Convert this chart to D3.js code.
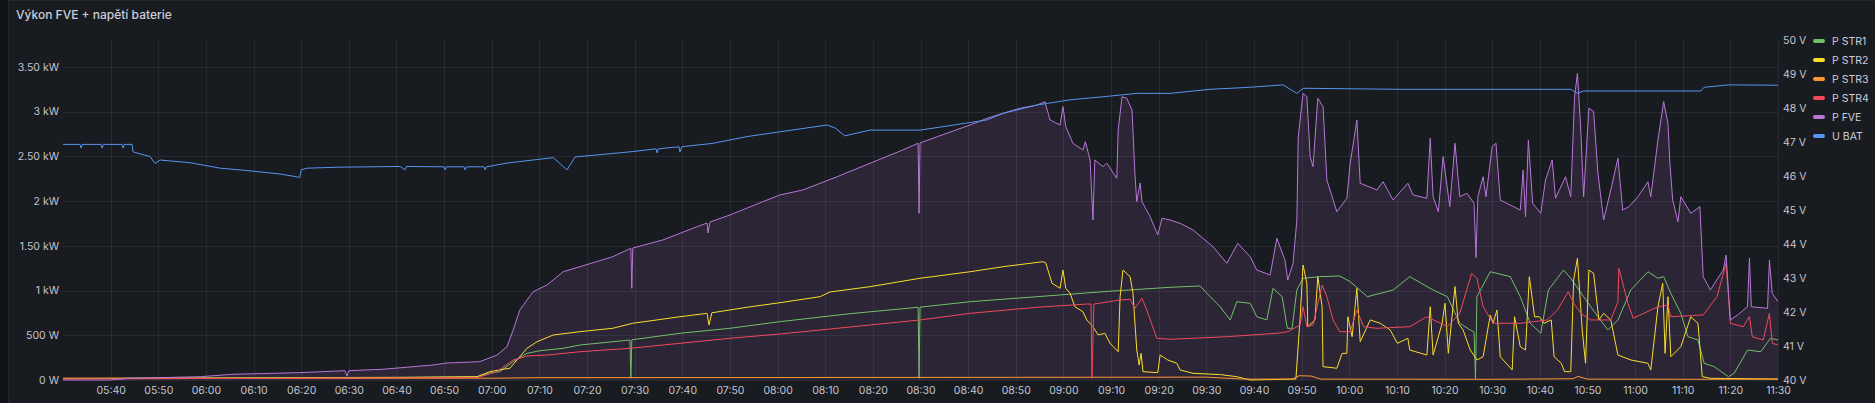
<!DOCTYPE html>
<html>
<head>
<meta charset="utf-8">
<script src="https://cdn.jsdelivr.net/npm/d3@7"></script>
<style>
  body { margin: 0; background: #111217; }
  svg { display: block; font-family: Inter, "Noto Sans", sans-serif; }
</style>
</head>
<body>
<svg id="chart" width="1875" height="403"></svg>
<script>
// time values are minutes after 05:30, power in W, voltage in V
var pStr1 = [[0,17],[86.9,34],[89.6,78],[91.7,93],[94.5,205],[97.4,298],[100.1,327],[105,354],[108.5,391],[119,447],[119.2,19],[119.4,449],
  [129.5,522],[140,578],[150.5,652],[165,740],[179.5,813],[179.7,19],[179.9,814],[190.4,875],[204.5,931],[218.3,987],[232.4,1036],
  [238.7,1051],[240.8,931],[242.9,819],[245,671],[246.4,875],[249.2,857],[250.6,707],[252.7,671],[254,1025],[255.9,931],[257,578],
  [258,578],[259,1006],[260.3,1137],[263.8,1155],[268,1162],[270.2,1099],[273.8,931],[279.2,1006],[282.7,1155],[287.6,1006],
  [290.6,931],[293.2,634],[295.4,559],[296.2,536],[296.5,11],[296.8,931],[299.6,1210],[303.8,1155],[305.9,931],[308,634],[310.2,522],
  [311.8,1006],[315,1229],[316.5,1137],[319.2,931],[322.2,707],[324.3,559],[326.4,671],[329.1,1006],[332.7,1210],[334.8,1137],
  [336,1155],[337.5,969],[339.6,745],[341.1,484],[343.2,447],[344.5,187],[346.6,149],[349.6,37],[350.8,75],[353.6,335],[356.4,316],
  [358.4,466],[360,447]];

var pStr2 = [[0,17],[60,22],[86.9,37],[89.6,93],[92.4,120],[93.8,131],[95.3,224],[97.4,354],[99.5,428],[102.9,503],[108.5,540],
  [115.4,578],[119.6,634],[129.5,707],[135.2,745],[135.6,615],[136.2,751],[143.6,813],[150.5,864],[158.9,931],[161,984],[169.4,1043],
  [179.9,1137],[190.4,1210],[197.3,1266],[205.7,1322],[206.3,1308],[207.6,1081],[209.3,1025],[209.9,1229],[210.5,1025],[211.4,969],
  [212.4,819],[214.1,763],[214.9,671],[216.2,596],[217.3,503],[218.7,522],[219.8,410],[221.5,316],[221.9,931],[222.5,1229],
  [224,1155],[224.6,969],[225.4,335],[225.9,168],[226.3,298],[226.7,93],[229.8,82],[230.3,279],[231.9,224],[233.8,187],[234.5,112],
  [237.2,75],[243,60],[246.4,37],[249.2,0],[258.8,11],[259.7,707],[260.3,1285],[261.1,1081],[261.3,596],[262.8,671],[263.4,1155],
  [264.3,819],[264.5,149],[267.4,131],[268.5,298],[269.5,298],[269.7,707],[270.6,484],[271.6,1025],[272.3,428],[274.4,671],
  [276.5,634],[278.6,559],[280.1,410],[282.3,466],[282.7,335],[286.3,279],[287,819],[287.6,279],[289.5,634],[290.1,857],[290.8,298],
  [292.2,1043],[292.9,634],[293.9,559],[295.4,335],[296.8,224],[298.1,260],[299.6,727],[300.2,634],[301,782],[301.7,260],[304.2,112],
  [304.7,707],[305.9,372],[307,335],[307.8,1155],[308.9,707],[309.9,707],[310.9,634],[312.4,671],[313,260],[314.5,187],[315.2,93],
  [316.5,93],[317.1,1118],[317.9,1360],[318.9,559],[319.6,187],[320.3,1229],[321.3,1193],[322.4,671],[323.4,745],[324.9,671],
  [326.4,279],[329.1,224],[332.7,187],[333.3,112],[334.8,819],[335.8,1081],[336.3,298],[336.9,931],[337.5,260],[339.6,372],
  [341.7,707],[343.2,634],[344.1,37],[345.8,19],[360,11]];

var pStr3 = [[0,20],[90,20],[100,26],[200,30],[240,32],[248,10],[258,10],[259.5,48],[262,44],[264,10],[300,8],[317,14],
  [318,40],[320,10],[345,8],[360,10]];

var pStr4 = [[0,11],[86.9,26],[91.1,93],[94.5,224],[95.9,243],[97.4,268],[101.6,279],[108.5,316],[119,354],[129.5,410],[140,466],
  [150.5,514],[162.5,578],[179.9,671],[190.4,745],[204.5,813],[214.9,849],[215.8,849],[216,19],[216.4,849],[221.9,894],[224,902],
  [225,801],[226.5,913],[227.5,782],[229.6,466],[232.4,455],[244.3,484],[254.8,522],[257.1,540],[259.7,615],[260.3,819],[261.1,596],
  [262.4,615],[264.3,1062],[265.3,931],[266.6,671],[268,540],[270.2,540],[271.6,782],[273,596],[275.8,578],[282.7,596],[286.3,707],
  [290.6,596],[293.2,745],[295.7,1193],[296.8,1137],[298.1,819],[300.2,634],[305.9,634],[311.6,671],[313.7,782],[316,987],[317.1,857],
  [318.6,745],[320.7,671],[324.9,671],[326.4,875],[326.6,1248],[328.5,857],[329.6,690],[334.8,819],[336.9,838],[337.5,707],
  [344.3,727],[347.2,931],[349.1,1304],[350,634],[352.7,596],[354,707],[354.6,484],[356.9,447],[358.2,745],[358.8,410],[360,391]];

var pFve = [[0,0],[9.9,0],[14.1,19],[28.8,37],[35.7,64],[49.7,82],[59.2,104],[59.6,45],[60,104],[67.2,120],[77.7,168],[80.6,190],
  [87.5,205],[91.1,279],[93.2,372],[94.5,559],[95.9,783],[97.4,894],[98.7,987],[101.6,1062],[105,1210],[108.5,1266],[115.4,1378],
  [119.2,1472],[119.4,1025],[119.6,1475],[125.9,1565],[133.1,1713],[135.2,1755],[135.4,1643],[135.8,1766],[140,1844],[146.9,1993],
  [150.5,2068],[155.3,2124],[162.5,2272],[169.4,2422],[176.3,2571],[179.5,2646],[179.7,1863],[179.9,2649],[183.5,2719],[190.4,2850],
  [194,2925],[197.3,2981],[200.9,3037],[204.5,3074],[206.1,3111],[207.2,2906],[209.3,2850],[209.9,3055],[210.5,2831],[212,2646],
  [214.1,2571],[214.6,2663],[215.6,2459],[216.2,1788],[216.6,2459],[218.3,2384],[219.1,2425],[221.2,2254],[221.5,2794],[222.3,3166],
  [223.3,3149],[224.4,3018],[225,2310],[225.4,1993],[226.1,2202],[226.5,1993],[228.2,1825],[229.8,1621],[230.7,1807],[232.4,1788],
  [234.5,1751],[237.2,1677],[241.4,1490],[244.3,1304],[246.6,1528],[249.2,1378],[250.6,1229],[253.4,1174],[254.8,1584],[256.5,1341],
  [257.1,1118],[258.2,1304],[259,1788],[259.3,2719],[260.3,3204],[261.1,3166],[261.8,2496],[262.4,2384],[263.4,3149],[264.5,3055],
  [265.3,2235],[267.4,1881],[269.5,2031],[270.2,2422],[271.6,2906],[272.3,2199],[275.8,2124],[277.1,2216],[279.2,2012],[282.3,2199],
  [283.4,2068],[286.3,2031],[287,2702],[287.6,2048],[288.7,1881],[289.7,2496],[291.1,1937],[292.2,2646],[293.2,2048],[294.7,2087],
  [296.2,1975],[296.6,1369],[297,2048],[298.1,2272],[298.7,2048],[300,2608],[300.8,2646],[301.7,2012],[305.9,1900],[306.5,2347],
  [307,1825],[307.6,2683],[308.5,1975],[310.2,1863],[311.2,2235],[312.6,2459],[313.3,2031],[315.4,2272],[316.5,2048],[317.3,3166],
  [317.9,3428],[318.6,2794],[319.2,2048],[320.3,3037],[321.3,2999],[322.2,2310],[323.4,1788],[324.9,2124],[326.4,2478],[327.4,1900],
  [328.7,1937],[330.6,2048],[332.7,2216],[333.3,2048],[334.8,2683],[336,3111],[336.9,2869],[337.3,2422],[337.9,2012],[339,1769],
  [339.6,2048],[341.7,1863],[343.6,1937],[344.3,1155],[345.8,1006],[348.5,1229],[349.1,1397],[350,671],[351.5,727],[353.6,819],
  [354,1360],[354.4,819],[357.8,801],[358.2,1341],[358.8,969],[360,875]];

var uBat = [[0,46.93],[3.6,46.93],[3.8,46.82],[4.1,46.93],[8,46.93],[8.2,46.82],[8.5,46.93],[12.4,46.93],[12.6,46.82],[12.9,46.93],
  [14.5,46.93],[14.7,46.71],[18.3,46.57],[19.3,46.37],[20.4,46.47],[26.7,46.39],[33,46.23],[38.6,46.16],[45.5,46.06],[49.7,45.96],
  [50,46.18],[51.2,46.23],[58.1,46.26],[70.7,46.28],[71.8,46.18],[72.1,46.28],[80,46.27],[80.2,46.18],[80.5,46.27],[84.2,46.27],
  [84.4,46.18],[84.7,46.27],[88.4,46.27],[88.6,46.18],[88.9,46.27],[93.2,46.38],[102.9,46.54],[105.8,46.18],[107.5,46.56],[119,46.71],
  [124.5,46.8],[124.7,46.68],[125,46.8],[129.3,46.86],[129.5,46.7],[129.9,46.86],[136.4,46.96],[143.6,47.16],[150.5,47.3],[160.4,47.5],
  [162.1,47.41],[164.1,47.18],[169.4,47.35],[179.9,47.35],[184.7,47.45],[194,47.65],[197.3,47.84],[204.5,48.09],[211.4,48.24],
  [218.3,48.33],[225.4,48.43],[232.4,48.43],[240.8,48.55],[249.2,48.61],[256.1,48.68],[259,48.43],[260.3,48.58],[280.7,48.55],
  [297.5,48.55],[316.5,48.55],[317.9,48.43],[319.2,48.5],[343.8,48.5],[344.5,48.61],[349.6,48.68],[360,48.67]];

var seriesNames = ['P STR1', 'P STR2', 'P STR3', 'P STR4', 'P FVE', 'U BAT'];
var seriesColors = ['#73bf69', '#fade2a', '#ff9830', '#f2495c', '#b877d9', '#5794f2'];
var powerTicks = [0, 500, 1000, 1500, 2000, 2500, 3000, 3500];
var voltTicks = [40, 41, 42, 43, 44, 45, 46, 47, 48, 49, 50];

(function(){
var T0 = Date.UTC(2024, 0, 1, 5, 30);
function at(m) { return new Date(T0 + m * 60000); }

var svg = d3.select('#chart');
var plotL = 63, plotR = 1778, plotT = 40, plotB = 380;

var x = d3.scaleUtc().domain([at(0), at(360)]).range([plotL, plotR]);
var yW = d3.scaleLinear().domain([0, 3800]).range([plotB, plotT]);
var yV = d3.scaleLinear().domain([40, 50]).range([plotB, plotT]);

function fmtW(v) {
    if (v < 1000) return v + ' W';
    var k = v / 1000;
    return (Number.isInteger(k) ? k : k.toFixed(2)) + ' kW';
}

// panel
svg.append('rect').attr('x', 8.5).attr('y', 0.5).attr('width', 1880).attr('height', 420)
   .attr('fill', '#181b1f').attr('stroke', '#24272c');
svg.append('text').attr('x', 16).attr('y', 18.5).attr('fill', '#ccccdc')
   .style('font-size', '12px').style('font-weight', 500).text('Výkon FVE + napětí baterie');

// grid
var grid = svg.append('g').attr('stroke', 'rgba(204,204,220,0.09)').attr('stroke-width', 1);
var xt = x.ticks(d3.utcMinute.every(10)).filter(function(d){ return d > at(0); });
grid.selectAll('.vg').data(xt).enter().append('line')
    .attr('x1', function(d){ return Math.round(x(d)) + 0.5; }).attr('x2', function(d){ return Math.round(x(d)) + 0.5; })
    .attr('y1', plotT).attr('y2', plotB);
grid.selectAll('.hg').data(powerTicks).enter().append('line')
    .attr('x1', plotL).attr('x2', plotR)
    .attr('y1', function(d){ return Math.round(yW(d)) + 0.5; }).attr('y2', function(d){ return Math.round(yW(d)) + 0.5; });

// axes
var axisX = d3.axisBottom(x).tickValues(xt).tickFormat(d3.utcFormat('%H:%M')).tickSize(0).tickPadding(7);
var gx = svg.append('g').attr('transform', 'translate(0,' + plotB + ')').call(axisX);
var axisL = d3.axisLeft(yW).tickValues(powerTicks).tickFormat(fmtW).tickSize(0).tickPadding(4);
var gl = svg.append('g').attr('transform', 'translate(' + plotL + ',0)').call(axisL);
var axisR = d3.axisRight(yV).tickValues(voltTicks).tickFormat(function(d){ return d + ' V'; }).tickSize(0).tickPadding(5);
var gr = svg.append('g').attr('transform', 'translate(' + plotR + ',0)').call(axisR);
[gx, gl, gr].forEach(function(g){
    g.select('.domain').remove();
    g.selectAll('text').attr('fill', '#c4c4d2').style('font-size', '10.5px').style('font-family', 'Inter, "Noto Sans", sans-serif');
});

// plot
svg.append('clipPath').attr('id', 'clip').append('rect')
   .attr('x', plotL).attr('y', plotT - 15).attr('width', plotR - plotL).attr('height', plotB - plotT + 16);
var plot = svg.append('g').attr('clip-path', 'url(#clip)');

var lineW = d3.line().x(function(d){ return x(at(d[0])); }).y(function(d){ return yW(d[1]); });
var lineV = d3.line().x(function(d){ return x(at(d[0])); }).y(function(d){ return yV(d[1]); });
var areaW = d3.area().x(function(d){ return x(at(d[0])); }).y0(yW(0)).y1(function(d){ return yW(d[1]); });

plot.append('path').datum(pFve).attr('d', areaW).attr('fill', seriesColors[4]).attr('fill-opacity', 0.12);

var powerSeries = [pStr1, pStr2, pStr3, pStr4, pFve];
powerSeries.forEach(function(s, i){
    plot.append('path').datum(s).attr('d', lineW).attr('fill', 'none')
        .attr('stroke', seriesColors[i]).attr('stroke-width', 1).attr('stroke-linejoin', 'round');
});
plot.append('path').datum(uBat).attr('d', lineV).attr('fill', 'none')
    .attr('stroke', seriesColors[5]).attr('stroke-width', 1).attr('stroke-linejoin', 'round');

// legend
var legend = svg.append('g').attr('transform', 'translate(1813,41)');
var items = legend.selectAll('g').data(seriesNames).enter().append('g')
    .attr('transform', function(d, i){ return 'translate(0,' + (i * 19) + ')'; });
items.append('rect').attr('x', 0).attr('y', -2).attr('width', 12).attr('height', 4).attr('rx', 2)
    .attr('fill', function(d, i){ return seriesColors[i]; });
items.append('text').attr('x', 19).attr('dy', '0.35em').attr('fill', '#ccccdc')
    .style('font-size', '10.5px').text(function(d){ return d; });
})();
</script>
</body>
</html>
